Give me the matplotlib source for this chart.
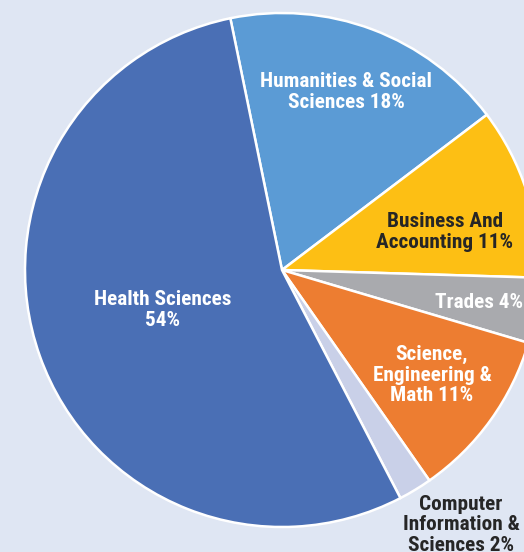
import matplotlib
matplotlib.use('Agg')
import matplotlib.pyplot as plt
from matplotlib import font_manager

categories = ['Humanities & Social\nSciences', 'Business And\nAccounting', 'Trades',
              'Science,\nEngineering &\nMath', 'Computer\nInformation &\nSciences', 'Health Sciences\n']
shares = [17.9, 10.8, 4.1, 10.7, 2.1, 54.4]
pct_labels = ['18%', '11%', '4%', '11%', '2%', '54%']
colors = ['#5b9bd5', '#fdbf14', '#a9aaae', '#ed7d31', '#c9d0e8', '#4a6fb5']
text_colors = ['white', '#262626', 'white', 'white', '#262626', 'white']

names = {f.name for f in font_manager.fontManager.ttflist}
family = 'Roboto'
for cand in ['Roboto Condensed', 'Liberation Sans Narrow']:
    if cand in names:
        family = cand
        break

W, H = 524, 552
fig = plt.figure(figsize=(W / 100, H / 100), dpi=100)
fig.patch.set_facecolor('#dfe6f3')
ax = fig.add_axes([0, 0, 1, 1])

cx, cy, r = 282, H - 270, 257
ax.pie(shares, colors=colors, startangle=101.6, counterclock=False,
       center=(cx, cy), radius=r, frame=True,
       wedgeprops=dict(edgecolor='white', linewidth=1.8))
ax.set_xlim(0, W)
ax.set_ylim(0, H)
ax.axis('off')

# label centres in pixels from top-left
label_pos = [(346, 92), (445, 232), (479, 302), (432, 375), (461, 525), (163, 310)]
for name, pct, tc, (x, y) in zip(categories, pct_labels, text_colors, label_pos):
    if name.endswith('\n'):
        txt = name + pct
    else:
        txt = name + ' ' + pct
    ax.text(x, H - y, txt, ha='center', va='center', color=tc,
            fontsize=15.3, fontweight='bold', family=family,
            fontstretch='condensed', linespacing=1.08)

fig.savefig('out.png', dpi=100, facecolor=fig.get_facecolor())
